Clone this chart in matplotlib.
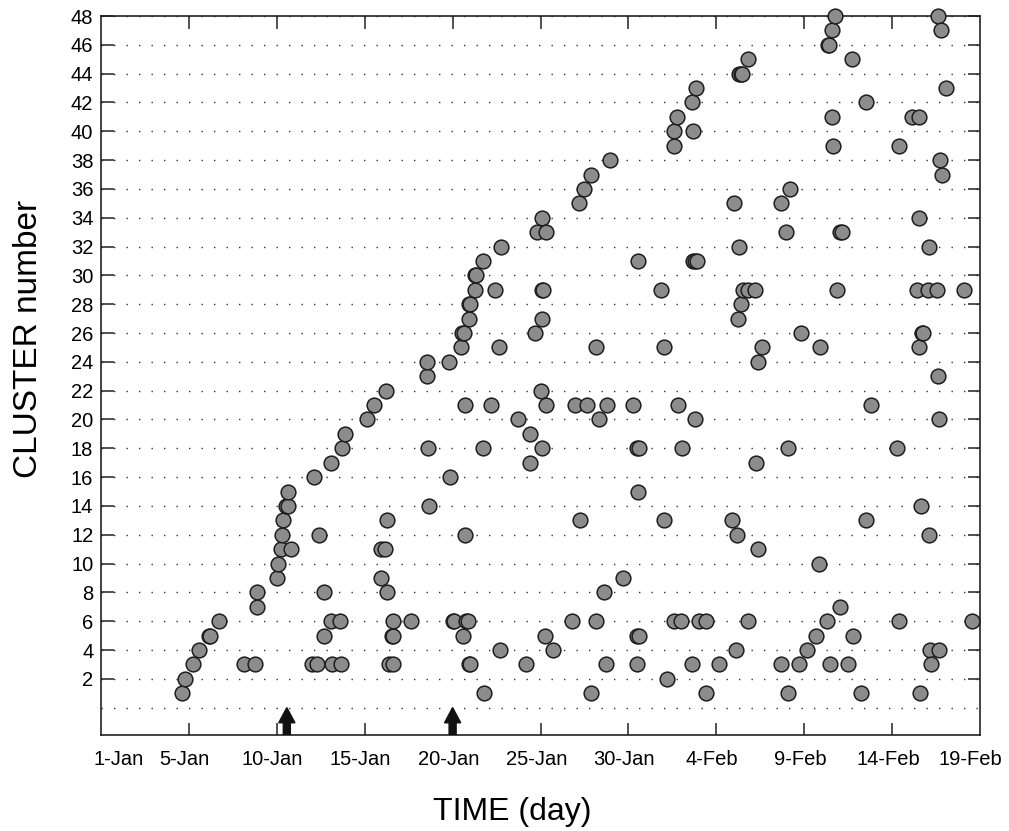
import matplotlib
matplotlib.use("Agg")
import matplotlib.pyplot as plt
import matplotlib.transforms as mtransforms
import numpy as np

# ---------------------------------------------------------------
# data: detection time (day number, 1 = 1-Jan, 32 = 1-Feb) and
# cluster number of every detected event
# ---------------------------------------------------------------
days = [
    4.58, 4.75, 5.23, 5.57, 6.12, 6.22, 6.70, 8.13, 8.74, 8.85, 8.90,
    10.00, 10.06, 10.21, 10.30, 10.33, 10.55, 10.62, 10.65, 10.80,
    12.01, 12.30, 12.11, 12.38, 12.68, 12.70, 13.09, 13.06, 13.15, 13.57,
    13.63, 13.70, 13.87, 15.14, 15.50, 15.90, 16.13, 15.90, 16.20, 16.24,
    16.28, 16.38, 16.60, 16.55, 16.62, 16.62, 17.64, 18.52, 18.55, 18.60,
    18.65, 19.80, 19.83, 20.02, 20.10, 20.45, 20.55, 20.65, 20.60, 20.68,
    20.70, 20.75, 20.85, 20.93, 20.98, 20.94, 20.92, 21.00, 21.27, 21.25,
    21.33, 21.74, 21.74, 21.78, 22.20, 22.40, 22.65, 22.69, 22.73, 23.70,
    24.19, 24.40, 24.40, 24.70, 24.80, 25.06, 25.12, 25.06, 25.00, 25.06,
    25.10, 25.30, 25.32, 25.23, 25.72, 26.80, 26.94, 27.17, 27.26, 27.50,
    27.62, 27.85, 27.88, 28.13, 28.15, 28.34, 28.63, 28.72, 28.76, 28.95,
    29.67, 30.27, 30.47, 30.54, 30.50, 30.58, 30.54, 30.50, 30.58, 31.87,
    32.02, 32.02, 32.20, 32.57, 32.57, 32.59, 32.74, 32.83, 32.97, 33.03,
    33.63, 33.63, 33.68, 33.77, 33.85, 33.66, 33.78, 33.90, 34.00, 34.39,
    34.39, 35.15, 35.89, 36.00, 36.10, 36.15, 36.24, 36.27, 36.28, 36.40,
    36.47, 36.41, 36.53, 36.82, 37.19, 36.82, 36.82, 37.25, 37.38, 37.38,
    37.58, 38.67, 38.69, 38.96, 39.05, 39.05, 39.19, 39.71, 39.79, 40.17,
    40.65, 40.85, 40.90, 41.27, 41.35, 41.42, 41.48, 41.60, 41.60, 41.65,
    41.74, 41.88, 42.01, 42.05, 42.12, 42.50, 42.70, 42.77, 43.24, 43.50,
    43.50, 43.78, 45.25, 45.40, 45.40, 46.14, 46.52, 46.41, 46.50, 46.53,
    46.56, 46.66, 46.70, 46.77, 47.05, 47.09, 47.11, 47.13, 47.19, 47.53,
    47.60, 47.62, 47.66, 47.68, 47.74, 47.76, 47.83, 48.08, 49.07, 49.56,
]
clusters = [
    1, 2, 3, 4, 5, 5, 6, 3, 3, 7, 8,
    9, 10, 11, 12, 13, 14, 14, 15, 11,
    3, 3, 16, 12, 8, 5, 6, 17, 3, 6,
    3, 18, 19, 20, 21, 11, 11, 9, 22, 13,
    8, 3, 3, 5, 5, 6, 6, 23, 24, 18,
    14, 24, 16, 6, 6, 25, 26, 26, 5, 12,
    21, 6, 6, 3, 3, 27, 28, 28, 29, 30,
    30, 31, 18, 1, 21, 29, 25, 4, 32, 20,
    3, 19, 17, 26, 33, 29, 29, 27, 22, 18,
    34, 33, 21, 5, 4, 6, 21, 35, 13, 36,
    21, 1, 37, 6, 25, 20, 8, 3, 21, 38,
    9, 21, 3, 31, 18, 18, 15, 5, 5, 29,
    25, 13, 2, 40, 39, 6, 41, 21, 6, 18,
    42, 3, 40, 20, 43, 31, 31, 31, 6, 6,
    1, 3, 13, 35, 4, 12, 27, 32, 44, 44,
    44, 28, 29, 29, 29, 45, 6, 17, 24, 11,
    25, 3, 35, 33, 18, 1, 36, 3, 26, 4,
    5, 10, 25, 6, 46, 46, 3, 47, 41, 39,
    48, 29, 7, 33, 33, 3, 45, 5, 1, 42,
    13, 21, 18, 39, 6, 41, 41, 29, 34, 25,
    1, 14, 26, 26, 29, 32, 12, 4, 3, 29,
    48, 23, 4, 20, 38, 47, 37, 43, 29, 6,
]

# x tick labels (day number -> date string)
tick_days = [5, 10, 15, 20, 25, 30, 35, 40, 45]
tick_labels = ["5-Jan", "10-Jan", "15-Jan", "20-Jan", "25-Jan",
               "30-Jan", "4-Feb", "9-Feb", "14-Feb"]
end_days = [1, 50]
end_labels = ["1-Jan", "19-Feb"]

# times marked with arrows on the time axis
arrow_days = [10.57, 20.0]

plt.rcParams['font.family'] = ['Liberation Sans', 'DejaVu Sans']

fig = plt.figure(figsize=(10.09, 8.31), dpi=100)
ax = fig.add_axes([0.1001, 0.1155, 0.8712, 0.8652])

ax.set_xlim(0, 50)
ax.set_ylim(-1.9, 48)

# dotted horizontal grid every 2 clusters (including 0)
ax.hlines(np.arange(0, 49, 2), 0, 50, colors='#333333',
          linestyles=(0, (1, 8)), linewidth=1.0, zorder=1)

ax.scatter(days, clusters, s=112, facecolor='#8c8c8c', edgecolor='#1e1e1e',
           linewidths=1.1, zorder=3, clip_on=False)

for d in arrow_days:
    ax.arrow(d, -1.9, 0, 1.9, width=0.4, head_width=0.92, head_length=1.05,
             length_includes_head=True, color='#111111', zorder=4)

ax.set_yticks(np.arange(2, 49, 2))
ax.set_xticks(tick_days, tick_labels)
ax.set_xticks(end_days, end_labels, minor=True)

ax.tick_params(direction='in', length=9, width=1.1, top=True, right=True,
               labelsize=14.5, colors='#222222', labelcolor='black')
ax.tick_params(axis='y', pad=5.5)
ax.tick_params(axis='x', which='both', pad=11)
ax.tick_params(axis='x', which='minor', length=0, labelsize=14.5)

# date labels sit a little left of their ticks, as in the original
shift = mtransforms.ScaledTranslation(-3 / 72, 0, fig.dpi_scale_trans)
for lab in ax.get_xticklabels():
    lab.set_transform(lab.get_transform() + shift)
end_shift = [mtransforms.ScaledTranslation(0, 0, fig.dpi_scale_trans),
             mtransforms.ScaledTranslation(-7 / 72, 0, fig.dpi_scale_trans)]
for lab, sh in zip(ax.get_xticklabels(minor=True), end_shift):
    lab.set_transform(lab.get_transform() + sh)

for sp in ax.spines.values():
    sp.set_linewidth(1.2)
    sp.set_color('#222222')

ax.set_xlabel("TIME (day)", fontsize=23, va='center')
ax.xaxis.set_label_coords(0.468, -0.107)
ax.set_ylabel("CLUSTER number", fontsize=24, va='center')
ax.yaxis.set_label_coords(-0.0825, 0.551)

fig.savefig("out.png", dpi=100)
